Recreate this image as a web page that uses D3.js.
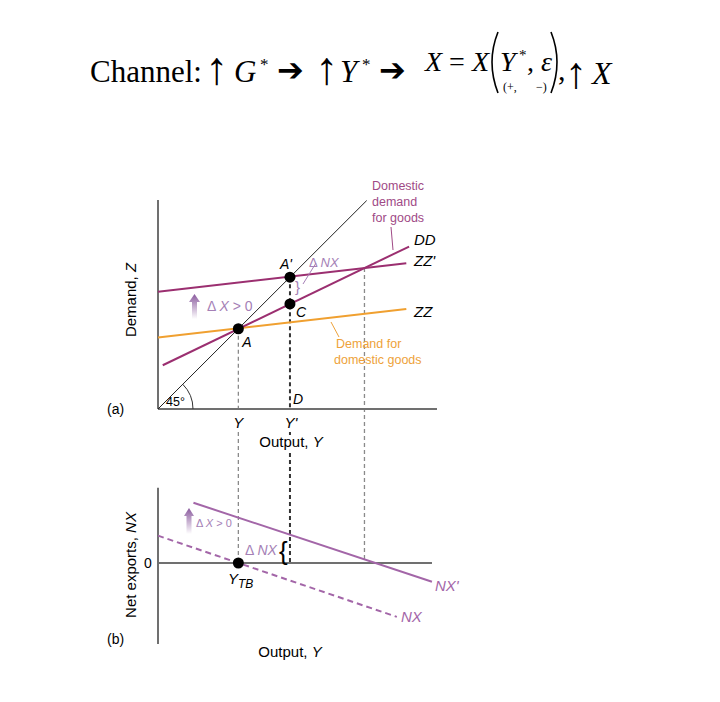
<!DOCTYPE html>
<html><head><meta charset="utf-8">
<script src="https://cdn.jsdelivr.net/npm/d3@7"></script>
<style>html,body{margin:0;padding:0;background:#fff;}svg{display:block;}</style>
</head><body>
<script>
// ---------- data (economic units) ----------
const xDomain = [0, 10];          // output, Y
const zDomain = [0, 7.5];         // demand, Z
const nxDomain = [-2.9, 2.7];     // net exports
const xAxisEndA = 10, xAxisEndB = 9.82;
const line45 = [[0, 0], [7.48, 7.48]];
const zzLine = [[0, 2.57], [8.9, 3.59]];
const zzPrimeLine = [[0, 4.21], [8.9, 5.23]];
const ddLine = [[0.17, 1.57], [9.0, 5.83]];
const points = [
  {name: "A", x: 2.88, y: 2.88},
  {name: "A'", x: 4.73, y: 4.73},
  {name: "C", x: 4.73, y: 3.77}
];
const guideX = [2.88, 4.73, 7.4];
const guideTop = [2.88, 4.73, 5.06];
const nxLine = [[0, 0.98], [8.56, -1.93]];
const nxPrimeLine = [[1.27, 2.16], [9.82, -0.67]];
const yTB = 2.88;
const xTickLabels = ["Y", "Y'"];

// ---------- colours ----------
const C = {dd: "#9b2f70", zz: "#f0a030", nx: "#a366a8", light: "#a57fb6",
           ddText: "#a04a86", zzText: "#eea23a", axis: "#707070"};

const W = 720, H = 702;
const svg = d3.select("body").append("svg").attr("width", W).attr("height", H);
const x = d3.scaleLinear().domain(xDomain).range([158, 437]);
const yA = d3.scaleLinear().domain(zDomain).range([409, 200]);
const yB = d3.scaleLinear().domain(nxDomain).range([643.9, 487.7]);
const lineA = d3.line().x(d => x(d[0])).y(d => yA(d[1]));
const lineB = d3.line().x(d => x(d[0])).y(d => yB(d[1]));
const sans = "Liberation Sans, Arial, sans-serif";
const serif = "Liberation Serif, Times New Roman, serif";

// ---------- title ----------
const t = svg.append("g").attr("font-family", serif).attr("fill", "#000");
t.append("text").attr("x", 90).attr("y", 82).attr("font-size", 31).text("Channel:");
t.append("text").attr("x", 205).attr("y", 84).attr("font-size", 46).text("↑");
t.append("text").attr("x", 234).attr("y", 82).attr("font-size", 31).attr("font-style", "italic").text("G");
t.append("text").attr("x", 260).attr("y", 70).attr("font-size", 17).text("*");
t.append("text").attr("x", 277).attr("y", 81).attr("font-size", 32).attr("font-weight", "bold").attr("font-family", "DejaVu Sans").text("➔");
t.append("text").attr("x", 315).attr("y", 84).attr("font-size", 46).text("↑");
t.append("text").attr("x", 340).attr("y", 82).attr("font-size", 31).attr("font-style", "italic").text("Y");
t.append("text").attr("x", 362).attr("y", 70).attr("font-size", 17).text("*");
t.append("text").attr("x", 379).attr("y", 81).attr("font-size", 32).attr("font-weight", "bold").attr("font-family", "DejaVu Sans").text("➔");
const eq = t.append("text").attr("x", 425).attr("y", 71).attr("font-size", 28);
eq.append("tspan").attr("font-style", "italic").text("X");
eq.append("tspan").text(" = ");
eq.append("tspan").attr("font-style", "italic").text("X");
t.append("path").attr("d", "M498,32 Q486,62 498,93").attr("fill", "none").attr("stroke", "#000").attr("stroke-width", 1.6);
t.append("text").attr("x", 500).attr("y", 71).attr("font-size", 28).attr("font-style", "italic").text("Y");
t.append("text").attr("x", 519).attr("y", 60).attr("font-size", 15).text("*");
const eps = t.append("text").attr("x", 527).attr("y", 71).attr("font-size", 28);
eps.append("tspan").text(", ");
eps.append("tspan").attr("font-style", "italic").text("ε");
t.append("text").attr("x", 503).attr("y", 91).attr("font-size", 12).text("(+,");
t.append("text").attr("x", 536).attr("y", 91).attr("font-size", 12).text("−)");
t.append("path").attr("d", "M551,32 Q563,62 551,93").attr("fill", "none").attr("stroke", "#000").attr("stroke-width", 1.6);
t.append("text").attr("x", 558).attr("y", 80).attr("font-size", 30).text(",");
t.append("text").attr("x", 565).attr("y", 88).attr("font-size", 44).text("↑");
t.append("text").attr("x", 592).attr("y", 84).attr("font-size", 32).attr("font-style", "italic").text("X");

// ---------- gradients ----------
const defs = svg.append("defs");
const grad = defs.append("linearGradient").attr("id", "arrowGrad").attr("x1", 0).attr("y1", 0).attr("x2", 0).attr("y2", 1);
grad.append("stop").attr("offset", "0%").attr("stop-color", "#8a5a9e");
grad.append("stop").attr("offset", "100%").attr("stop-color", "#ffffff");

function upArrow(cx, top, bottom, headW, headH, shaftW) {
  return `M${cx},${top} L${cx + headW / 2},${top + headH} L${cx + shaftW / 2},${top + headH} L${cx + shaftW / 2},${bottom} L${cx - shaftW / 2},${bottom} L${cx - shaftW / 2},${top + headH} L${cx - headW / 2},${top + headH} Z`;
}

// ---------- panel (a) ----------
const a = svg.append("g");
guideX.forEach((gx, i) => {
  const dark = i === 1;
  const st = {stroke: dark ? "#333" : "#8a8a8a", w: dark ? 2 : 1.3};
  const segs = i === 0 ? [[yA(guideTop[i]), 409], [432, yB(0)]]
             : i === 1 ? [[yA(guideTop[i]), 409], [432, 435], [453, yB(0)]]
             : [[yA(guideTop[i]), yB(0)]];
  segs.forEach(s => a.append("line").attr("x1", x(gx)).attr("x2", x(gx)).attr("y1", s[0]).attr("y2", s[1])
    .attr("stroke", st.stroke).attr("stroke-width", st.w).attr("stroke-dasharray", "4,3"));
});
a.append("line").attr("x1", x(0)).attr("x2", x(0)).attr("y1", yA(0)).attr("y2", yA(zDomain[1]))
  .attr("stroke", C.axis).attr("stroke-width", 2);
a.append("line").attr("x1", x(0)).attr("x2", x(xAxisEndA)).attr("y1", yA(0)).attr("y2", yA(0))
  .attr("stroke", C.axis).attr("stroke-width", 2);
a.append("path").attr("d", lineA(line45)).attr("stroke", "#222").attr("stroke-width", 1).attr("fill", "none");
const r = 35;
a.append("path").attr("d", `M${x(0) + r},${yA(0)} A${r},${r} 0 0 0 ${x(0) + r * Math.SQRT1_2},${yA(0) - r * Math.SQRT1_2}`)
  .attr("stroke", "#333").attr("stroke-width", 1).attr("fill", "none");
a.append("text").attr("x", 166).attr("y", 406).attr("font-family", sans).attr("font-size", 12.5).text("45°");
a.append("path").attr("d", lineA(zzLine)).attr("stroke", C.zz).attr("stroke-width", 2).attr("fill", "none");
a.append("path").attr("d", lineA(zzPrimeLine)).attr("stroke", C.dd).attr("stroke-width", 2).attr("fill", "none");
a.append("path").attr("d", lineA(ddLine)).attr("stroke", C.dd).attr("stroke-width", 2).attr("fill", "none");
a.selectAll("circle.pt").data(points).join("circle").attr("class", "pt")
  .attr("cx", d => x(d.x)).attr("cy", d => yA(d.y)).attr("r", 5.5).attr("fill", "#000");
const it = {"font-family": sans, "font-style": "italic", "font-size": 14};
function lab(g, txt, px, py, extra) {
  const e = g.append("text").attr("x", px).attr("y", py).text(txt);
  Object.entries(Object.assign({}, it, extra || {})).forEach(([k, v]) => e.attr(k, v));
  return e;
}
lab(a, "A", x(points[0].x) + 4, yA(points[0].y) + 18);
lab(a, "A'", x(points[1].x) - 10, yA(points[1].y) - 8);
lab(a, "C", x(points[2].x) + 6, yA(points[2].y) + 13);
lab(a, "D", x(points[1].x) + 3, 404);
lab(a, "DD", 414, 245, {"font-size": 15});
lab(a, "ZZ'", 414, 266, {"font-size": 15});
lab(a, "ZZ", 414, 317, {"font-size": 15});
lab(a, xTickLabels[0], x(guideX[0]), 428, {"text-anchor": "middle", "font-size": 15});
lab(a, xTickLabels[1], x(guideX[1]) + 1, 428, {"text-anchor": "middle", "font-size": 15});
const out1 = a.append("text").attr("x", 291).attr("y", 447).attr("text-anchor", "middle")
  .attr("font-family", sans).attr("font-size", 15);
out1.append("tspan").text("Output, ");
out1.append("tspan").attr("font-style", "italic").text("Y");
const yl = a.append("text").attr("transform", "translate(136,300) rotate(-90)").attr("text-anchor", "middle")
  .attr("font-family", sans).attr("font-size", 15);
yl.append("tspan").text("Demand, ");
yl.append("tspan").attr("font-style", "italic").text("Z");
a.append("text").attr("x", 107).attr("y", 414).attr("font-family", sans).attr("font-size", 14).text("(a)");
const dd1 = a.append("text").attr("font-family", sans).attr("font-size", 12.5).attr("fill", C.ddText);
["Domestic", "demand", "for goods"].forEach((s, i) => dd1.append("tspan").attr("x", 372).attr("y", 190 + i * 16).text(s));
a.append("line").attr("x1", 391).attr("y1", 227).attr("x2", 393).attr("y2", 250).attr("stroke", C.ddText).attr("stroke-width", 1);
const zz1 = a.append("text").attr("font-family", sans).attr("font-size", 12.5).attr("fill", C.zzText);
["Demand for", "domestic goods"].forEach((s, i) => zz1.append("tspan").attr("x", i === 0 ? 336 : 334).attr("y", 348 + i * 16).text(s));
a.append("line").attr("x1", 331).attr("y1", 322).attr("x2", 339).attr("y2", 337).attr("stroke", C.zzText).attr("stroke-width", 1);
const dnxA = a.append("text").attr("x", 309).attr("y", 267).attr("font-family", sans).attr("font-size", 13).attr("fill", C.light);
dnxA.append("tspan").text("Δ ");
dnxA.append("tspan").attr("font-style", "italic").text("NX");
a.append("line").attr("x1", 316).attr("y1", 263).attr("x2", 303).attr("y2", 284).attr("stroke", C.light).attr("stroke-width", 1);
a.append("text").attr("x", 295).attr("y", 292).attr("font-family", sans).attr("font-size", 15).attr("fill", C.light).text("}");
a.append("path").attr("d", upArrow(194.5, 294, 319, 11, 8, 5)).attr("fill", "url(#arrowGrad)");
const dxA = a.append("text").attr("x", 207).attr("y", 311).attr("font-family", sans).attr("font-size", 14).attr("fill", C.light);
dxA.append("tspan").text("Δ ");
dxA.append("tspan").attr("font-style", "italic").text("X");
dxA.append("tspan").text(" > 0");

// ---------- panel (b) ----------
const b = svg.append("g");
b.append("line").attr("x1", x(0)).attr("x2", x(0)).attr("y1", yB(nxDomain[0])).attr("y2", yB(nxDomain[1]))
  .attr("stroke", C.axis).attr("stroke-width", 2);
b.append("line").attr("x1", x(0)).attr("x2", x(xAxisEndB)).attr("y1", yB(0)).attr("y2", yB(0))
  .attr("stroke", C.axis).attr("stroke-width", 2);
b.append("path").attr("d", lineB(nxPrimeLine)).attr("stroke", C.nx).attr("stroke-width", 2).attr("fill", "none");
b.append("path").attr("d", lineB(nxLine)).attr("stroke", C.nx).attr("stroke-width", 2).attr("fill", "none")
  .attr("stroke-dasharray", "6,4");
b.append("circle").attr("cx", x(yTB)).attr("cy", yB(0)).attr("r", 5.5).attr("fill", "#000");
b.append("text").attr("x", 148).attr("y", yB(0) + 5).attr("font-family", sans).attr("font-size", 14).attr("text-anchor", "middle").text("0");
const ytb = b.append("text").attr("x", 228).attr("y", 584).attr("font-family", sans).attr("font-size", 15).attr("font-style", "italic");
ytb.append("tspan").text("Y");
ytb.append("tspan").attr("font-size", 12).attr("dy", 4).text("TB");
lab(b, "NX'", 435, 591, {"fill": C.nx, "font-size": 15});
lab(b, "NX", 401, 622, {"fill": C.nx, "font-size": 15});
const dnxB = b.append("text").attr("x", 245).attr("y", 555).attr("font-family", sans).attr("font-size", 14).attr("fill", C.light);
dnxB.append("tspan").text("Δ ");
dnxB.append("tspan").attr("font-style", "italic").text("NX");
b.append("text").attr("x", 279).attr("y", 560).attr("font-family", sans).attr("font-size", 26).attr("fill", "#000").text("{");
b.append("path").attr("d", upArrow(189, 508, 534, 10, 8, 5)).attr("fill", "url(#arrowGrad)");
const dxB = b.append("text").attr("x", 196).attr("y", 527).attr("font-family", sans).attr("font-size", 11).attr("fill", C.light);
dxB.append("tspan").text("Δ ");
dxB.append("tspan").attr("font-style", "italic").text("X");
dxB.append("tspan").text(" > 0");
const yl2 = b.append("text").attr("transform", "translate(136,565) rotate(-90)").attr("text-anchor", "middle")
  .attr("font-family", sans).attr("font-size", 15);
yl2.append("tspan").text("Net exports, ");
yl2.append("tspan").attr("font-style", "italic").text("NX");
b.append("text").attr("x", 107).attr("y", 644).attr("font-family", sans).attr("font-size", 14).text("(b)");
const out2 = b.append("text").attr("x", 290).attr("y", 657).attr("text-anchor", "middle")
  .attr("font-family", sans).attr("font-size", 15);
out2.append("tspan").text("Output, ");
out2.append("tspan").attr("font-style", "italic").text("Y");
</script>
</body></html>
